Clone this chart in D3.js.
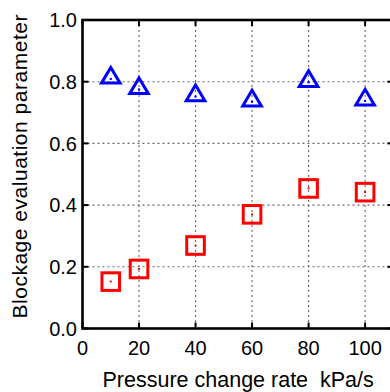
<!DOCTYPE html>
<html>
<head>
<meta charset="utf-8">
<script src="https://cdn.jsdelivr.net/npm/d3@7"></script>
<style>
  html, body { margin: 0; padding: 0; background: #fff; }
  svg { display: block; font-family: Arial, "Liberation Sans", Helvetica, sans-serif; }
</style>
</head>
<body>
<svg id="chart" width="390" height="392"></svg>
<script>
// Pressure change rate (kPa/s) at each measurement
const rates = [10, 20, 40, 60, 80, 100];
// Blockage evaluation parameter, two series
const upperSeries = [0.809, 0.775, 0.752, 0.735, 0.798, 0.738];
const lowerSeries = [0.152, 0.193, 0.269, 0.370, 0.454, 0.442];
// Axis ticks
const xTicks = [0, 20, 40, 60, 80, 100];
const yTicks = [0.0, 0.2, 0.4, 0.6, 0.8, 1.0];

const svg = d3.select("#chart");
const plotLeft = 82.5, plotTop = 20, plotBottom = 328.5;

const x = d3.scaleLinear().domain([0, 110]).range([plotLeft, plotLeft + 110 * 2.826]);
const y = d3.scaleLinear().domain([0, 1]).range([plotBottom, plotTop]);
const plotRight = x(110);

// Dotted grid
const grid = svg.append("g").attr("stroke", "#666").attr("stroke-width", 1.1)
  .attr("stroke-dasharray", "2,3");
grid.selectAll("line.gy").data(yTicks.filter(v => v > 0 && v < 1)).join("line")
  .attr("x1", plotLeft).attr("x2", plotRight)
  .attr("y1", d => y(d)).attr("y2", d => y(d));
grid.selectAll("line.gx").data(xTicks.filter(v => v > 0)).join("line")
  .attr("y1", plotTop).attr("y2", plotBottom)
  .attr("x1", d => x(d)).attr("x2", d => x(d));

// Frame
svg.append("rect").attr("x", plotLeft).attr("y", plotTop)
  .attr("width", plotRight - plotLeft).attr("height", plotBottom - plotTop)
  .attr("fill", "none").attr("stroke", "#000").attr("stroke-width", 2.6);

// Inward ticks on all four sides
const tk = svg.append("g").attr("stroke", "#000").attr("stroke-width", 2);
const tl = 6;
xTicks.forEach(v => {
  tk.append("line").attr("x1", x(v)).attr("x2", x(v)).attr("y1", plotBottom).attr("y2", plotBottom - tl);
  tk.append("line").attr("x1", x(v)).attr("x2", x(v)).attr("y1", plotTop).attr("y2", plotTop + tl);
});
yTicks.forEach(v => {
  tk.append("line").attr("y1", y(v)).attr("y2", y(v)).attr("x1", plotLeft).attr("x2", plotLeft + tl);
  tk.append("line").attr("y1", y(v)).attr("y2", y(v)).attr("x1", plotRight).attr("x2", plotRight - tl);
});

// Tick labels
svg.append("g").selectAll("text").data(yTicks).join("text")
  .attr("x", 77).attr("y", d => y(d)).attr("dy", "0.36em")
  .attr("text-anchor", "end").attr("font-size", 20).attr("fill", "#000")
  .text(d => d3.format(".1f")(d));
svg.append("g").selectAll("text").data(xTicks).join("text")
  .attr("x", d => x(d)).attr("y", 354.5)
  .attr("text-anchor", "middle").attr("font-size", 20).attr("fill", "#000")
  .text(d => d);

// Axis titles
svg.append("text").attr("x", 102.5).attr("y", 387)
  .attr("font-size", 21.5).attr("fill", "#000")
  .style("white-space", "pre")
  .text("Pressure change rate  kPa/s");
svg.append("text")
  .attr("transform", "translate(26.5,166.5) rotate(-90)")
  .attr("text-anchor", "middle").attr("font-size", 21).attr("fill", "#000")
  .attr("textLength", 304).attr("lengthAdjust", "spacing")
  .text("Blockage evaluation parameter");

// Upper series: open blue triangles
const tri = svg.append("g");
rates.forEach((r, i) => {
  const cx = x(r), cy = y(upperSeries[i]);
  tri.append("path")
    .attr("d", `M${cx},${cy - 11.5}L${cx + 9.3},${cy + 4.2}L${cx - 9.3},${cy + 4.2}Z`)
    .attr("fill", "none").attr("stroke", "#0000ff").attr("stroke-width", 3)
    .attr("stroke-linejoin", "miter");
  tri.append("circle").attr("cx", cx).attr("cy", cy).attr("r", 1.2).attr("fill", "#0000ff");
});

// Lower series: open red squares
const sq = svg.append("g");
rates.forEach((r, i) => {
  const cx = x(r), cy = y(lowerSeries[i]);
  sq.append("rect").attr("x", cx - 8.8).attr("y", cy - 8.8)
    .attr("width", 17.6).attr("height", 17.6)
    .attr("fill", "none").attr("stroke", "#ff0000").attr("stroke-width", 3);
  sq.append("circle").attr("cx", cx).attr("cy", cy).attr("r", 1.1).attr("fill", "#ff0000");
});
</script>
</body>
</html>
